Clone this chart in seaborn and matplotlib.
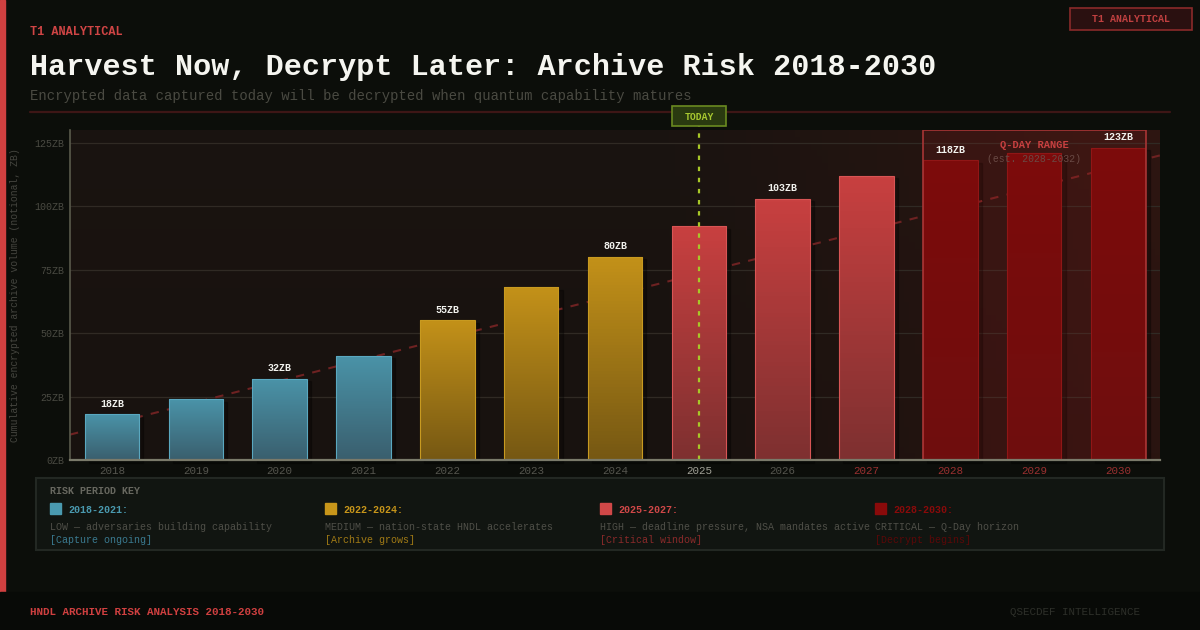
import matplotlib
matplotlib.use("Agg")
import matplotlib.pyplot as plt
import matplotlib.colors as mcolors
from matplotlib.patches import Rectangle
import numpy as np
import pandas as pd
import seaborn as sns

# data
years = [2018, 2019, 2020, 2021, 2022, 2023, 2024, 2025, 2026, 2027, 2028, 2029, 2030]
volume = [18, 24, 32, 41, 55, 68, 80, 92, 103, 112, 118, 121, 123]
period = ["2018-2021"] * 4 + ["2022-2024"] * 3 + ["2025-2027"] * 3 + ["2028-2030"] * 3
label_years = [2018, 2020, 2022, 2024, 2026, 2028, 2030]
trend_years = [2017.5, 2030.5]
trend_values = [10, 120]
today_year = 2025
qday_years = [2028, 2030]
y_ticks = [0, 25, 50, 75, 100, 125]

period_names = ["2018-2021", "2022-2024", "2025-2027", "2028-2030"]
period_desc = ["LOW \u2014 adversaries building capability",
               "MEDIUM \u2014 nation-state HNDL accelerates",
               "HIGH \u2014 deadline pressure, NSA mandates active",
               "CRITICAL \u2014 Q-Day horizon"]
period_notes = ["[Capture ongoing]", "[Archive grows]", "[Critical window]", "[Decrypt begins]"]

# colours
key_col = {"2018-2021": "#4a9ab0", "2022-2024": "#c8961a", "2025-2027": "#d04848", "2028-2030": "#8a0a0a"}
note_col = {"2018-2021": "#3a7a90", "2022-2024": "#a07a15", "2025-2027": "#8a2a2a", "2028-2030": "#5a0808"}
grad = {"2018-2021": ("#4a93a8", "#3a5f6e"),
        "2022-2024": ("#c39119", "#765813"),
        "2025-2027": ("#c84040", "#7e3030"),
        "2028-2030": ("#730909", "#640c0c")}
edge = {"2018-2021": "#5aa8c0", "2022-2024": "#c89a20", "2025-2027": "#d85555", "2028-2030": "#8a1515"}

BG = "#0c0e0a"
FONT = "Liberation Mono"

sns.set_theme(style="dark")
plt.rcParams["font.family"] = [FONT, "DejaVu Sans Mono", "DejaVu Sans"]

fig = plt.figure(figsize=(12, 6.3), dpi=100, facecolor=BG)


def fx(x):
    return x / 1200


def fy(y):
    return 1 - y / 630


# frame decorations
fig.patches.append(Rectangle((0, fy(592)), fx(5), fy(0) - fy(592), transform=fig.transFigure, color="#d04040", zorder=0))
fig.patches.append(Rectangle((0, 0), 1, fy(592), transform=fig.transFigure, color="#080a07", zorder=0))

ax = fig.add_axes([fx(70), fy(460), fx(1090), fy(130) - fy(460)])
ax.set_facecolor("#1a1410")

df = pd.DataFrame({"year": years, "volume": volume, "period": period})
sns.barplot(data=df, x="year", y="volume", hue="period", palette=key_col, dodge=False,
            width=0.65, legend=False, ax=ax, zorder=3)

ax.set_xlim(-0.5, 12.5)
ax.set_ylim(0, 130)

# background gradient (slightly warmer to the right)
nx, ny = 200, 50
gx = np.linspace(0, 1, nx)[None, :]
gy = np.linspace(0, 1, ny)[:, None]
c_left = np.array(mcolors.to_rgb("#18120f"))
c_right = np.array(mcolors.to_rgb("#2a1410"))
t = np.clip((gx - 0.55) / 0.45, 0, 1) * np.ones_like(gy)
img = c_left[None, None, :] * (1 - t[..., None]) + c_right[None, None, :] * t[..., None]
img = img * (1 + 0.08 * gy[..., None])
ax.imshow(np.clip(img, 0, 1), extent=[-0.5, 12.5, 0, 130], origin="lower", aspect="auto", zorder=0)

# gridlines
for v in y_ticks[1:]:
    ax.axhline(v, color="#302a24", lw=0.9, zorder=1)

# gradient bars + shadows
bars = [b for c in ax.containers for b in c]
bars.sort(key=lambda b: b.get_x())
for b, p in zip(bars, period):
    x0, w, h = b.get_x(), b.get_width(), b.get_height()
    shadow = Rectangle((x0 + 0.05, -1.2), w, h + 0.2, color="#000000", alpha=0.28, zorder=2, clip_on=False)
    ax.add_patch(shadow)
    top, bot = (np.array(mcolors.to_rgb(c)) for c in grad[p])
    g = np.linspace(0, 1, 64)[:, None, None]
    col = bot * (1 - g) + top * g
    im = ax.imshow(col, extent=[x0, x0 + w, 0, h], origin="lower", aspect="auto", zorder=3)
    im.set_clip_path(b)
    b.set_facecolor("none")
    b.set_edgecolor(edge[p])
    b.set_linewidth(0.8)
    b.set_zorder(4)

ax.set_xlim(-0.5, 12.5)
ax.set_ylim(0, 130)

# trend line
tx = [y - years[0] for y in trend_years]
ax.plot(tx, trend_values, color="#6e2222", lw=1.5, ls=(0, (4, 4)), zorder=2.5)

# value labels
for yr, v in zip(years, volume):
    if yr in label_years:
        ax.text(yr - years[0], v + 2.2, f"{v}ZB", ha="center", va="bottom", color="#f2f2ee",
                fontsize=7.2, fontweight="bold", zorder=6)

# Q-Day range
q0 = qday_years[0] - years[0] - 0.33
q1 = qday_years[1] - years[0] + 0.33
ax.add_patch(Rectangle((q0, 0), q1 - q0, 130, facecolor="#c02020", alpha=0.13, edgecolor="none", zorder=5))
ax.add_patch(Rectangle((q0, 0), q1 - q0, 130, facecolor="none", edgecolor="#a83535", lw=1.2, zorder=5))
fig.text(fx(1034), fy(145), "Q-DAY RANGE", color="#c84040", fontsize=7.5, fontweight="bold", ha="center", va="center")
fig.text(fx(1034), fy(159), "(est. 2028-2032)", color="#6a4a45", fontsize=7, ha="center", va="center")

# TODAY marker
ti = today_year - years[0]
ax.plot([ti, ti], [0, 131.5], color="#a8c828", lw=1.6, ls=(0, (2, 3)), zorder=7, clip_on=False)
fig.patches.append(Rectangle((fx(672), fy(126)), fx(54), fy(106) - fy(126), transform=fig.transFigure,
                             facecolor="#2a3a10", edgecolor="#6a8a20", lw=1.2, zorder=3))
fig.text(fx(699), fy(116.5), "TODAY", color="#a8c830", fontsize=7, fontweight="bold", ha="center", va="center")

# axes styling
ax.set_xlabel("")
ax.set_ylabel("Cumulative encrypted archive volume (notional, ZB)", color="#45453f", fontsize=7)
ax.yaxis.set_label_coords(-0.046, 0.5)
ax.set_yticks(y_ticks)
ax.set_yticklabels([f"{v}ZB" for v in y_ticks], color="#4a4a42", fontsize=7.2)
ax.set_xticks(range(len(years)))
ax.set_xticklabels([str(y) for y in years], fontsize=7.8)
for lbl, yr in zip(ax.get_xticklabels(), years):
    if yr == today_year:
        lbl.set_color("#a0a096")
    elif yr >= 2027:
        lbl.set_color("#9a3030")
    else:
        lbl.set_color("#55554e")
ax.tick_params(axis="both", length=0, pad=4)
ax.grid(False)
for s in ["top", "right"]:
    ax.spines[s].set_visible(False)
ax.spines["left"].set_color("#5a5a4c")
ax.spines["left"].set_linewidth(1.2)
ax.spines["bottom"].set_color("#7a7a6a")
ax.spines["bottom"].set_linewidth(1.6)
ax.spines["left"].set_zorder(8)
ax.spines["bottom"].set_zorder(8)

# header
fig.text(fx(30), fy(32), "T1 ANALYTICAL", color="#d04545", fontsize=8.6, fontweight="bold", va="center")
fig.text(fx(30), fy(67), "Harvest Now, Decrypt Later: Archive Risk 2018-2030", color="#f5f5f0",
         fontsize=21.7, fontweight="bold", va="center")
fig.text(fx(30), fy(96), "Encrypted data captured today will be decrypted when quantum capability matures",
         color="#4a4a42", fontsize=10, va="center")
fig.lines.append(plt.Line2D([fx(30), fx(1170)], [fy(112), fy(112)], transform=fig.transFigure,
                            color="#3e1616", lw=1.6))
fig.patches.append(Rectangle((fx(1070), fy(30)), fx(122), fy(8) - fy(30), transform=fig.transFigure,
                             facecolor="#2a1010", edgecolor="#8a2a2a", lw=1.2))
fig.text(fx(1131), fy(19.5), "T1 ANALYTICAL", color="#c04040", fontsize=7.2, fontweight="bold",
         ha="center", va="center")

# risk period key
fig.patches.append(Rectangle((fx(36), fy(550)), fx(1128), fy(478) - fy(550), transform=fig.transFigure,
                             facecolor="#111511", edgecolor="#232823", lw=1.5))
fig.text(fx(50), fy(491), "RISK PERIOD KEY", color="#686860", fontsize=7.2, fontweight="bold", va="center")
for i, name in enumerate(period_names):
    x = 50 + 275 * i
    fig.patches.append(Rectangle((fx(x), fy(514)), fx(11), fy(503) - fy(514), transform=fig.transFigure,
                                 color=key_col[name]))
    fig.text(fx(x + 18), fy(510), name + ":", color=key_col[name], fontsize=7.2, fontweight="bold", va="center")
    fig.text(fx(x), fy(527), period_desc[i], color="#4f4f48", fontsize=7.2, va="center")
    fig.text(fx(x), fy(540), period_notes[i], color=note_col[name], fontsize=7.2, va="center")

# footer
fig.text(fx(30), fy(612), "HNDL ARCHIVE RISK ANALYSIS 2018-2030", color="#d04040", fontsize=7.8,
         fontweight="bold", va="center")
fig.text(fx(1010), fy(612), "QSECDEF INTELLIGENCE", color="#2e302a", fontsize=7.8, va="center")

fig.savefig("out.png", dpi=100, facecolor=BG)
